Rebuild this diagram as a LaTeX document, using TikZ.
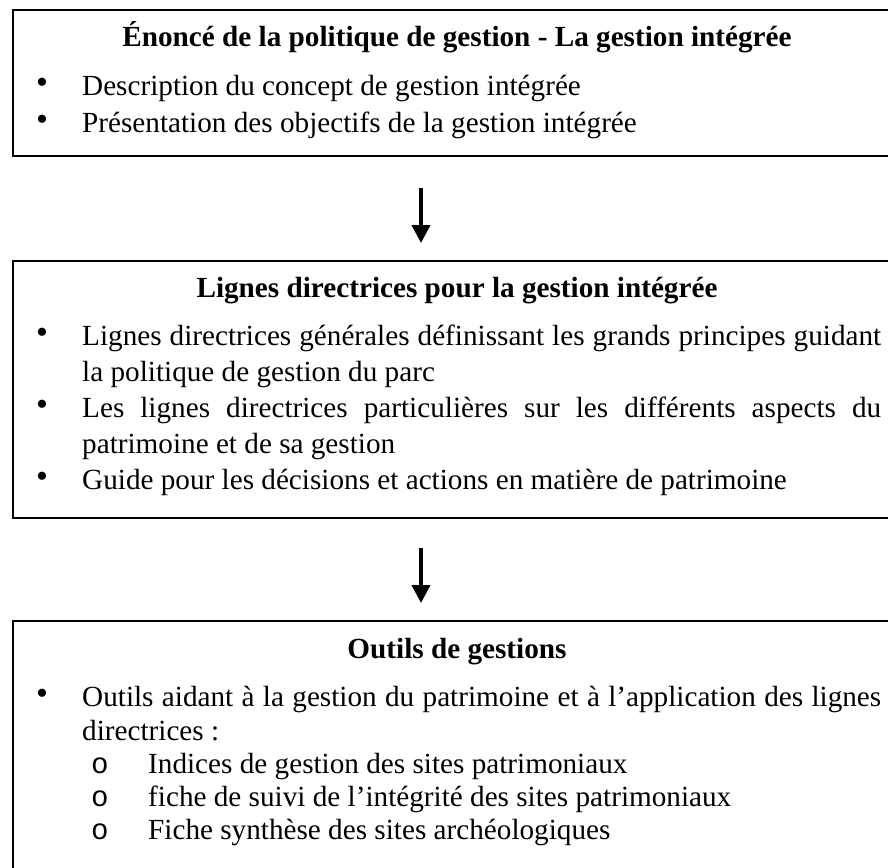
\documentclass[tikz,border=0pt]{standalone}
\usepackage{fontspec}
\setmainfont{Liberation Serif}
\newfontfamily\sousfont{Liberation Mono}
\usetikzlibrary{arrows.meta}
\newcommand\grand{\fontsize{29.2}{34}\selectfont}
\newcommand\ligne[1]{\makebox[799pt][s]{#1}}
\tikzset{
  cadre/.style={line width=2pt},
  fleche/.style={line width=4pt,-{Triangle[width=18pt,length=18pt]}},
  titre/.style={anchor=base,inner sep=0pt,font=\grand\bfseries},
  texte/.style={anchor=base west,inner sep=0pt,font=\grand},
  puce/.style={anchor=center,inner sep=0pt,font=\fontsize{34}{34}\selectfont},
  souspuce/.style={anchor=base,inner sep=0pt,font=\grand\sousfont},
}
\begin{document}
\begin{tikzpicture}[x=1pt,y=-1pt]
  \useasboundingbox (0,0) rectangle (888,867);
  \clip (0,0) rectangle (888,867);
  % cadre 1 : politique de gestion
  \draw[cadre] (13,10) rectangle (902,156);
  \node[titre] (titre1) at (457,47) {Énoncé de la politique de gestion - La gestion intégrée};
  \node[puce] (p11) at (42,86) {•};
  \node[texte] (d11) at (82,95) {Description du concept de gestion intégrée};
  \node[puce] (p12) at (42,123) {•};
  \node[texte] (d12) at (82,132) {Présentation des objectifs de la gestion intégrée};
  % flèche 1
  \coordinate (f1a) at (421,188);
  \coordinate (f1b) at (421,243);
  \draw[fleche] (f1a) -- (f1b);
  % cadre 2 : lignes directrices
  \draw[cadre] (13,261) rectangle (902,518);
  \node[titre] (titre2) at (457,297) {Lignes directrices pour la gestion intégrée};
  \node[puce] (p21) at (42,336) {•};
  \node[texte] (d21) at (82,345) {\ligne{Lignes directrices générales définissant les grands principes guidant}};
  \node[texte] (d21b) at (82,381) {la politique de gestion du parc};
  \node[puce] (p22) at (42,408) {•};
  \node[texte] (d22) at (82,417) {\ligne{Les lignes directrices particulières sur les différents aspects du}};
  \node[texte] (d22b) at (82,453) {patrimoine et de sa gestion};
  \node[puce] (p23) at (42,480) {•};
  \node[texte] (d23) at (82,489) {Guide pour les décisions et actions en matière de patrimoine};
  % flèche 2
  \coordinate (f2a) at (421,548);
  \coordinate (f2b) at (421,603);
  \draw[fleche] (f2a) -- (f2b);
  % cadre 3 : outils
  \draw[cadre] (13,621) rectangle (902,880);
  \node[titre] (titre3) at (457,658) {Outils de gestions};
  \node[puce] (p31) at (42,697) {•};
  \node[texte] (d31) at (82,706) {\ligne{Outils aidant à la gestion du patrimoine et à l’application des lignes}};
  \node[texte] (d31b) at (82,740) {directrices :};
  \node[souspuce] (s1) at (100,773) {o};
  \node[texte] (o1) at (148,773) {Indices de gestion des sites patrimoniaux};
  \node[souspuce] (s2) at (100,806) {o};
  \node[texte] (o2) at (148,806) {fiche de suivi de l’intégrité des sites patrimoniaux};
  \node[souspuce] (s3) at (100,839) {o};
  \node[texte] (o3) at (148,839) {Fiche synthèse des sites archéologiques};
\end{tikzpicture}
\end{document}
